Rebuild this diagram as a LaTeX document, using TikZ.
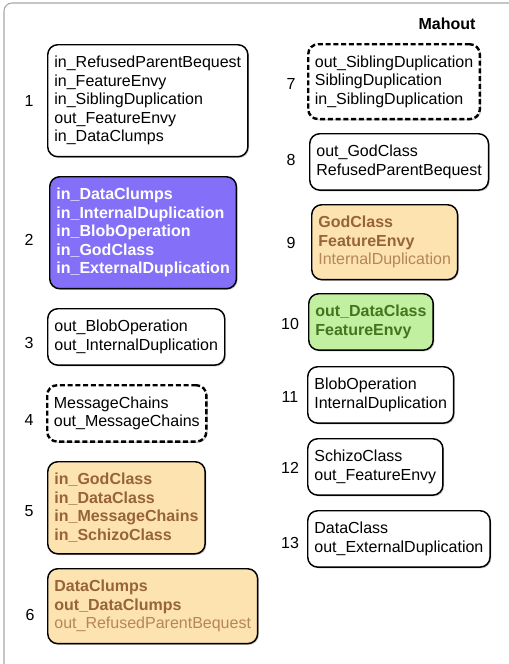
\documentclass[tikz,border=0pt]{standalone}
\usepackage{fontspec}
\setmainfont{Liberation Sans}
\usepackage{tikz}
\usetikzlibrary{shadows}

\definecolor{smellblue}{RGB}{132,112,248}
\definecolor{tanfill}{RGB}{253,227,176}
\definecolor{tantext}{RGB}{150,100,56}
\definecolor{tanlight}{RGB}{180,134,90}
\definecolor{greenfill}{RGB}{192,240,160}
\definecolor{greentext}{RGB}{70,116,30}

\tikzset{
  smell/.style={draw, line width=1.1pt, rounded corners=7.5pt, fill=white,
    anchor=north west, align=left, inner xsep=5pt, inner ysep=8.6pt,
    font=\fontsize{12}{13.9}\selectfont,
    drop shadow={shadow xshift=0.9pt, shadow yshift=-0.9pt, opacity=0.45}},
  dashsmell/.style={smell, line width=1.8pt, dash pattern=on 3.8pt off 2pt},
  bluesmell/.style={smell, fill=smellblue, text=white,
    font=\fontsize{12}{13.9}\selectfont\bfseries},
  tansmell/.style={smell, fill=tanfill, text=tantext},
  greensmell/.style={smell, fill=greenfill, text=greentext,
    font=\fontsize{12}{13.9}\selectfont\bfseries},
  num/.style={font=\fontsize{12}{14}\selectfont},
}

\begin{document}
\begin{tikzpicture}[x=0.75pt, y=-0.75pt]
        \useasboundingbox (0,0) rectangle (509,664);
        \begin{scope}
          \clip (0,0) rectangle (509,664);
          \draw[black!35, line width=0.8pt, rounded corners=6pt] (4,3) rectangle (620,760);
        \end{scope}

        \node[font=\fontsize{12}{14}\selectfont\bfseries] (title) at (447,24) {Mahout};

        % left column
        \node[smell] (b1) at (47,44) {in\_RefusedParentBequest\\in\_FeatureEnvy\\in\_SiblingDuplication\\out\_FeatureEnvy\\in\_DataClumps};
        \node[bluesmell] (b2) at (49,176) {in\_DataClumps\\in\_InternalDuplication\\in\_BlobOperation\\in\_GodClass\\in\_ExternalDuplication};
        \node[smell] (b3) at (47,308) {out\_BlobOperation\\out\_InternalDuplication};
        \node[dashsmell] (b4) at (46,384) {MessageChains\\out\_MessageChains};
        \node[tansmell, font=\fontsize{12}{13.9}\selectfont\bfseries] (b5) at (47,461) {in\_GodClass\\in\_DataClass\\in\_MessageChains\\in\_SchizoClass};
        \node[tansmell] (b6) at (47,568) {\textbf{DataClumps}\\\textbf{out\_DataClumps}\\\textcolor{tanlight}{out\_RefusedParentBequest}};

        \node[num] (n1) at (29,101) {1};
        \node[num] (n2) at (29,240) {2};
        \node[num] (n3) at (29,343) {3};
        \node[num] (n4) at (29,420) {4};
        \node[num] (n5) at (29,511) {5};
        \node[num] (n6) at (30,615) {6};

        % right column
        \node[dashsmell] (b7) at (307,43) {out\_SiblingDuplication\\SiblingDuplication\\in\_SiblingDuplication};
        \node[smell] (b8) at (309,133) {out\_GodClass\\RefusedParentBequest};
        \node[tansmell] (b9) at (311,204) {\textbf{GodClass}\\\textbf{FeatureEnvy}\\\textcolor{tanlight}{InternalDuplication}};
        \node[greensmell] (b10) at (308,293) {out\_DataClass\\FeatureEnvy};
        \node[smell] (b11) at (307,366) {BlobOperation\\InternalDuplication};
        \node[smell] (b12) at (307,438) {SchizoClass\\out\_FeatureEnvy};
        \node[smell] (b13) at (307,510) {DataClass\\out\_ExternalDuplication};

        \node[num] (n7) at (291,84) {7};
        \node[num] (n8) at (291,160) {8};
        \node[num] (n9) at (291,243) {9};
        \node[num] (n10) at (290,324) {10};
        \node[num] (n11) at (290,397) {11};
        \node[num] (n12) at (290,468) {12};
        \node[num] (n13) at (290,543) {13};
\end{tikzpicture}
\end{document}
